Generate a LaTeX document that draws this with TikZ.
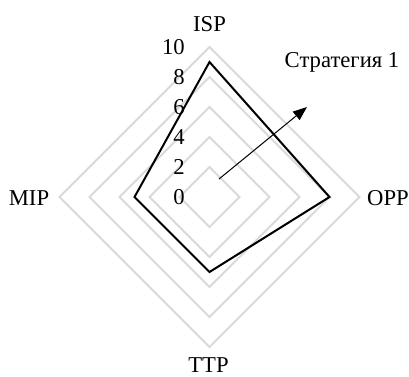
\documentclass[tikz,border=0pt]{standalone}
\usepackage{fontspec}
\setmainfont{Liberation Serif}
\usepackage{xcolor}
\usetikzlibrary{arrows.meta}
\definecolor{gridgray}{RGB}{217,217,217}

\begin{document}
\begin{tikzpicture}[x=0.75pt,y=0.75pt,yscale=-1,xscale=1,
  ring/.style={draw=gridgray,line width=1.5},
  series/.style={draw=black,line width=1.5,line join=miter},
  lbl/.style={inner sep=0.75pt,font=\fontsize{17}{20}\selectfont},
  tick/.style={lbl,anchor=east}]
\useasboundingbox (0,0) rectangle (409,376);

%Shape: Diamond rings 2,4,6,8,10
\draw [ring] (209.5,167) -- (239.5,197) -- (209.5,227) -- (179.5,197) -- cycle ;
\draw [ring] (209.5,137) -- (269.5,197) -- (209.5,257) -- (149.5,197) -- cycle ;
\draw [ring] (209.5,107) -- (299.5,197) -- (209.5,287) -- (119.5,197) -- cycle ;
\draw [ring] (209.5,77) -- (329.5,197) -- (209.5,317) -- (89.5,197) -- cycle ;
\draw [ring] (209.5,47) -- (359.5,197) -- (209.5,347) -- (59.5,197) -- cycle ;

%Data points
\coordinate (isp) at (209.5,62) ;
\coordinate (opp) at (329.5,197) ;
\coordinate (ttp) at (209.5,272) ;
\coordinate (mip) at (134.5,197) ;
%Shape: Polygon
\draw [series] (isp) -- (opp) -- (ttp) -- (mip) -- cycle ;

%Straight Lines
\coordinate (arrS) at (219,179) ;
\coordinate (arrE) at (307,107) ;
\draw [line width=0.75, -{Triangle[length=10.5pt,width=8pt]}] (arrS) -- (arrE) ;

% Text Node
\node [tick] (t0) at (186,197) {0};
% Text Node
\node [tick] (t2) at (186,167) {2};
% Text Node
\node [tick] (t4) at (186,137) {4};
% Text Node
\node [tick] (t6) at (186,107) {6};
% Text Node
\node [tick] (t8) at (186,77) {8};
% Text Node
\node [tick] (t10) at (186,47) {10};
% Text Node
\node [lbl] (ISP) at (209.5,24) {ISP};
% Text Node
\node [lbl] (OPP) at (388,198) {OPP};
% Text Node
\node [lbl] (TTP) at (208.5,365) {TTP};
% Text Node
\node [lbl] (MIP) at (29,198) {MIP};
% Text Node
\node [lbl] (str1) at (342,62) {Стратегия 1};

\end{tikzpicture}
\end{document}
